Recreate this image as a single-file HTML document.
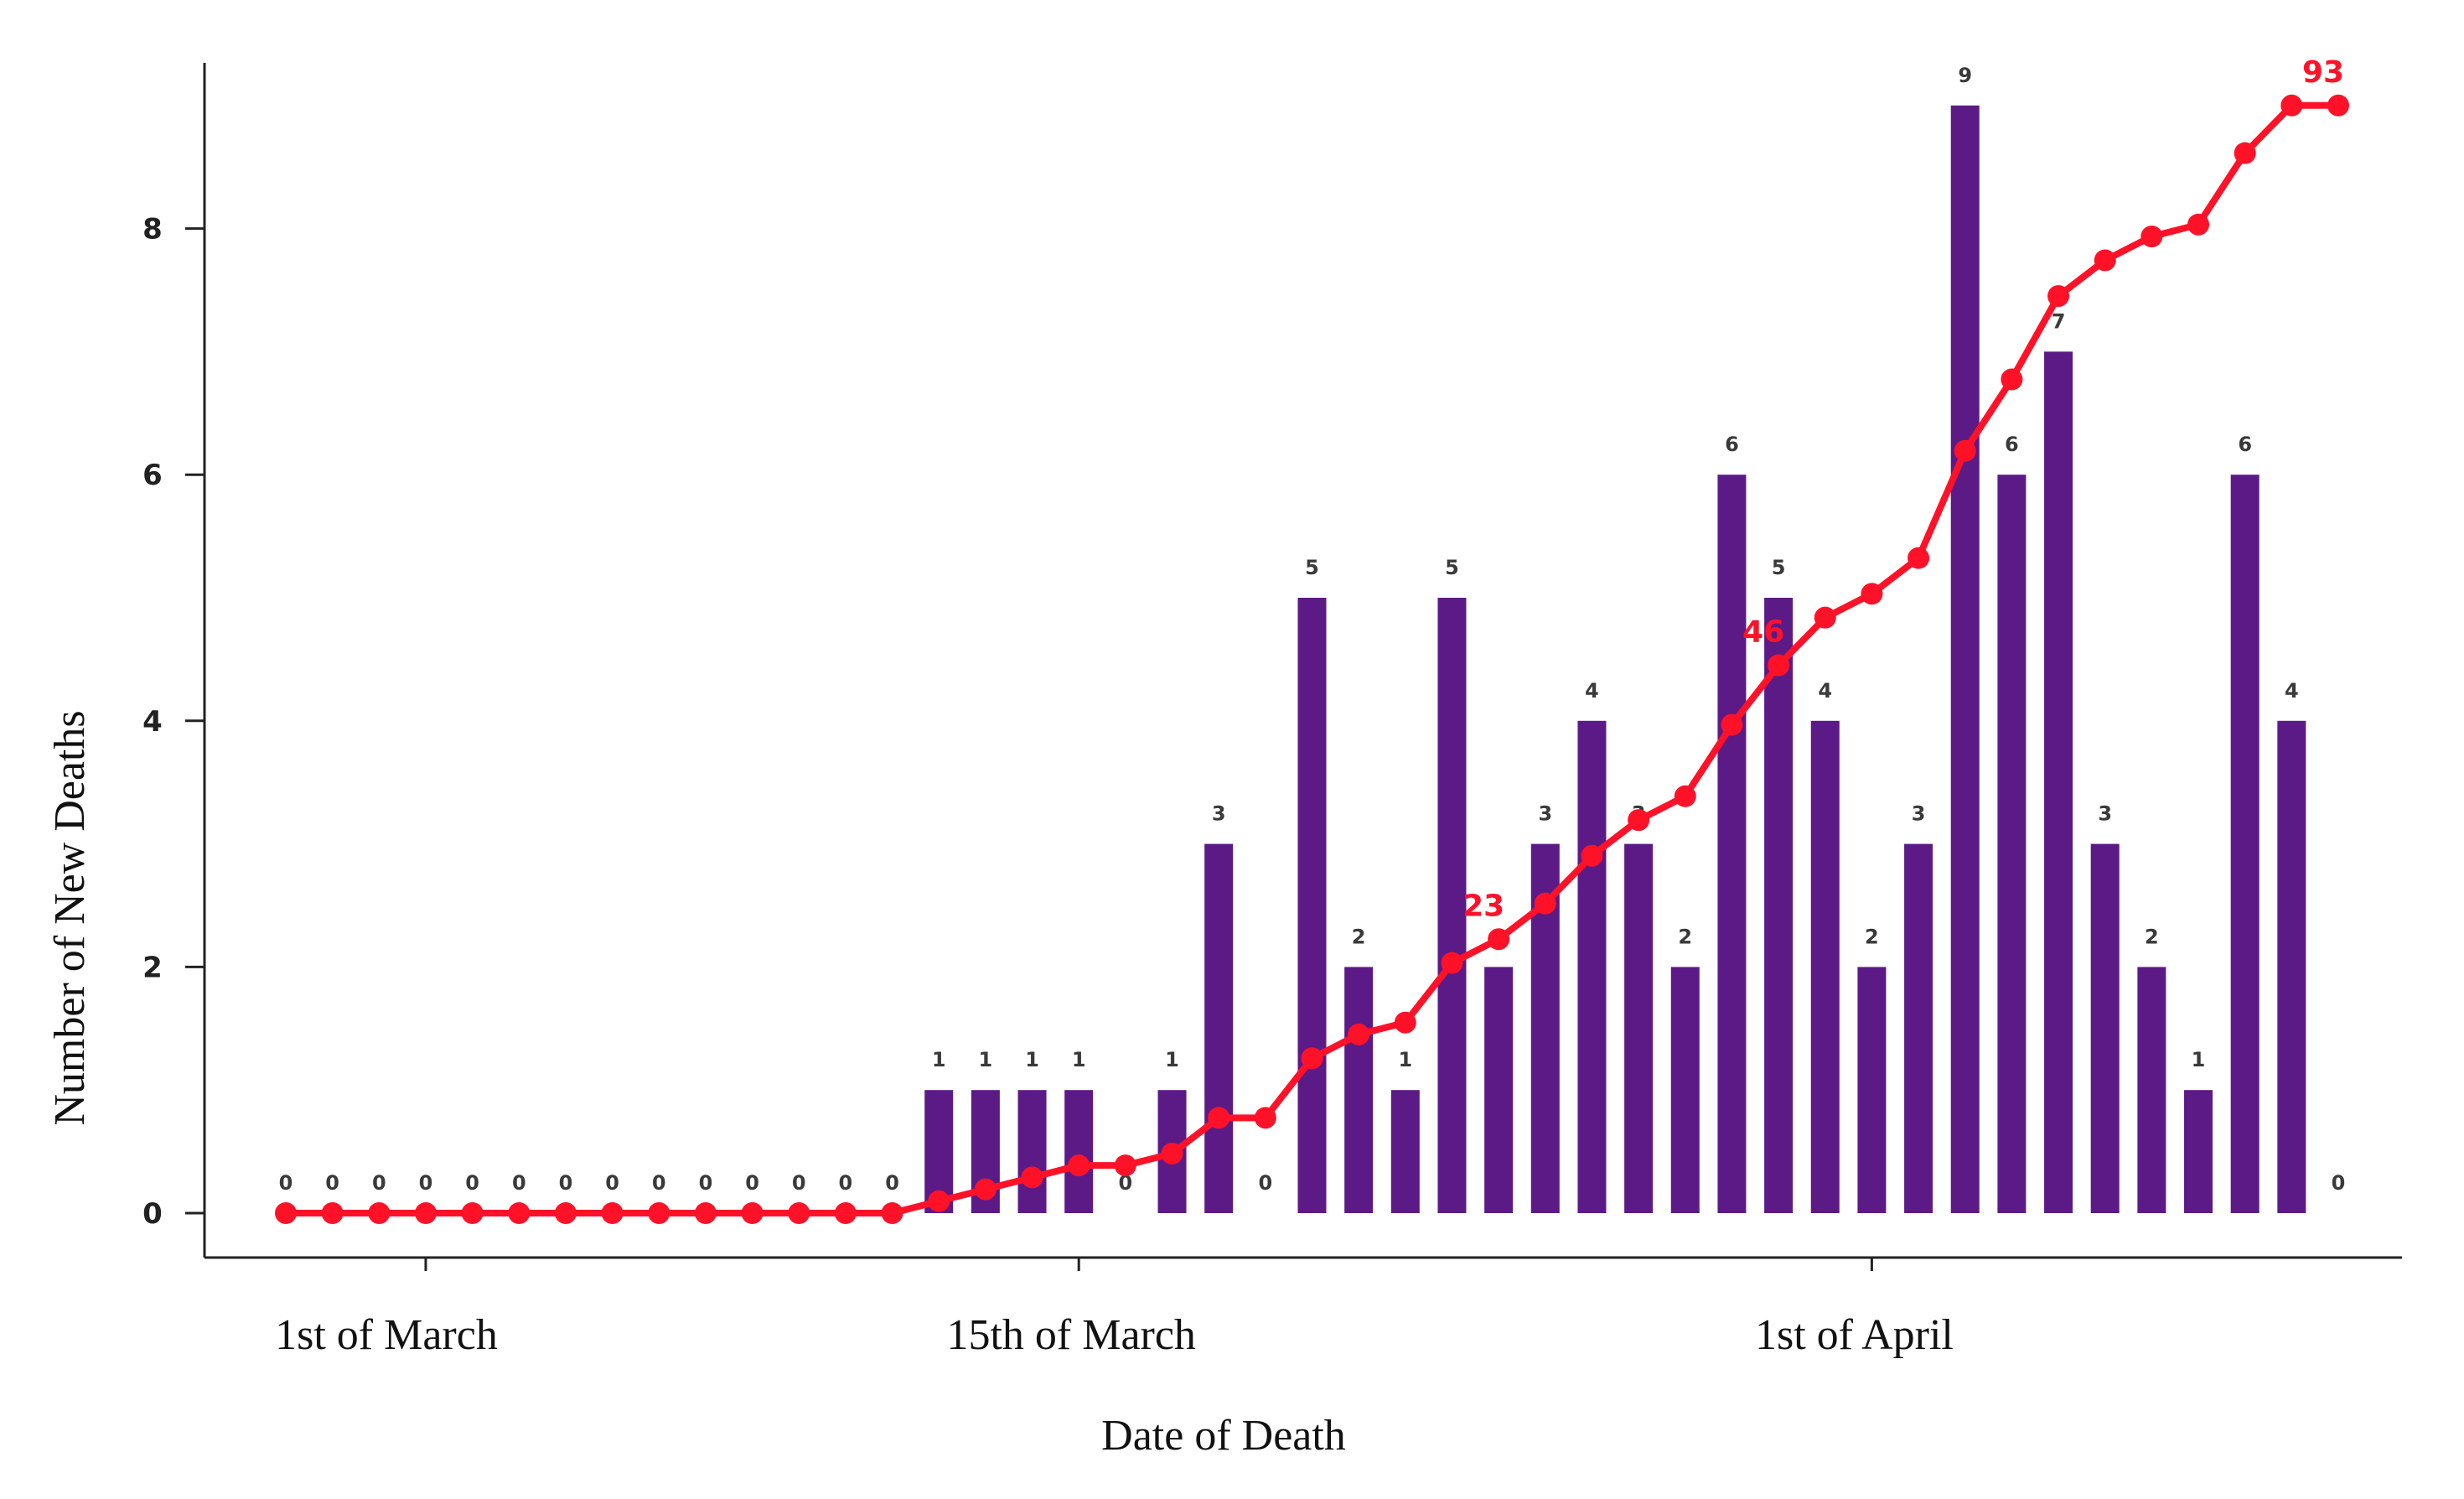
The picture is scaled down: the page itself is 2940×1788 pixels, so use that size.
<!DOCTYPE html>
<html><head><meta charset="utf-8"><style>
html,body{margin:0;padding:0;background:#fff;}
svg{display:block;}
</style></head><body>
<svg id="chart" width="2940" height="1788" viewBox="0 0 2940 1788" xmlns="http://www.w3.org/2000/svg">
<rect width="2940" height="1788" fill="#fff"/>
<g id="axes">
<line x1="244" y1="75" x2="244" y2="1500" stroke="#222" stroke-width="3"/>
<line x1="244" y1="1500" x2="2866" y2="1500" stroke="#222" stroke-width="3"/>
</g>
<g id="yticks"></g>
<g id="xticks"></g>
<g id="bars"></g>
<g id="barlabels"></g>
<g id="line"></g>
<g id="cumlabels"></g>
<text x="1460" y="1729" text-anchor="middle" font-family="Liberation Serif, serif" font-size="52" fill="#111">Date of Death</text>
<text transform="translate(100,1095) rotate(-90)" text-anchor="middle" font-family="Liberation Serif, serif" font-size="52" fill="#111">Number of New Deaths</text>
</svg>
<script>
const dailyDeaths = [0,0,0,0,0,0,0,0,0,0,0,0,0,0,1,1,1,1,0,1,3,0,5,2,1,5,2,3,4,3,2,6,5,4,2,3,9,6,7,3,2,1,6,4,0];
const yTicks = [0,2,4,6,8];
const xTickIndex = [3,17,34];
const xTickLabels = ["1st of March","15th of March","1st of April"];
const xTickLabelOffsets = [-47,-9,-21];
const highlightTotals = [23,46,93];
const cumulativeScale = 93/9;

const NS="http://www.w3.org/2000/svg";
const X0=341, DX=(2790-341)/44, Y0=1447, UNIT=146.8;
const xs=i=>X0+i*DX;
const ys=v=>Y0-v*UNIT;
function mk(tag,attrs,parent,txt){const e=document.createElementNS(NS,tag);for(const k in attrs)e.setAttribute(k,attrs[k]);if(txt!==undefined)e.textContent=txt;document.getElementById(parent).appendChild(e);return e;}

yTicks.forEach(v=>{
  const t=mk('line',{x1:221,x2:244,y1:ys(v),y2:ys(v),stroke:'#222','stroke-width':3},'yticks');
  
  
  const l=mk('text',{x:182,y:ys(v)+12,'text-anchor':'middle','font-family':'DejaVu Sans, sans-serif','font-size':34,'font-weight':'bold',fill:'#222'},'yticks',String(v));
  
  
});
xTickIndex.forEach((idx,k)=>{
  const t=mk('line',{x1:xs(idx),x2:xs(idx),y1:1500,y2:1516,stroke:'#222','stroke-width':3},'xticks');
  
  
  const l=mk('text',{x:xs(idx)+xTickLabelOffsets[k],y:1609,'text-anchor':'middle','font-family':'Liberation Serif, serif','font-size':52,fill:'#111'},'xticks',xTickLabels[k]);
  
  
});
const cum=[];let s=0;
dailyDeaths.forEach((v,i)=>{
  s+=v;cum.push(s);
  if(v>0){
    const b=mk('rect',{x:xs(i)-17,y:ys(v),width:34,height:v*UNIT,fill:'#5c1a87'},'bars');
    
    
  }
  const t=mk('text',{x:xs(i),y:ys(v)-28,'text-anchor':'middle','font-family':'DejaVu Sans, sans-serif','font-size':24,'font-weight':'bold',fill:'#3a3a3a'},'barlabels',String(v));
  
  
});
const pts=cum.map((c,i)=>xs(i)+','+ys(c/cumulativeScale)).join(' ');
const pl=mk('polyline',{points:pts,fill:'none',stroke:'#ff1228','stroke-width':8,'stroke-linejoin':'round'},'line');


cum.forEach((c,i)=>{
  const d=mk('circle',{cx:xs(i),cy:ys(c/cumulativeScale),r:13,fill:'#ff1228'},'line');
  
  
});
highlightTotals.forEach(h=>{
  const i=cum.lastIndexOf(h);
  const t=mk('text',{x:xs(i)-18,y:ys(h/cumulativeScale)-28,'text-anchor':'middle','font-family':'DejaVu Sans, sans-serif','font-size':36,'font-weight':'bold',fill:'#ff1228'},'cumlabels',String(h));
  
  
});
</script>
</body></html>
